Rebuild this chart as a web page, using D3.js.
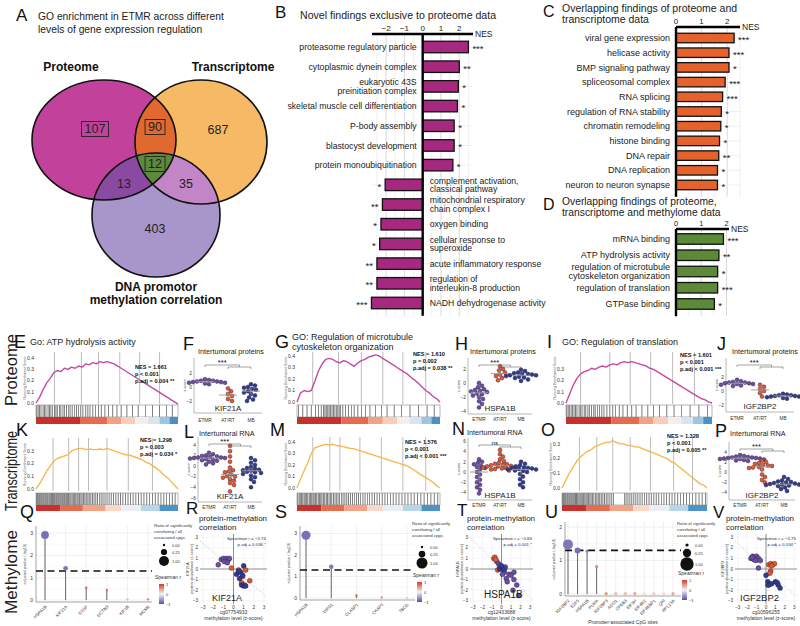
<!DOCTYPE html>
<html>
<head>
<meta charset="utf-8">
<script src="https://cdn.jsdelivr.net/npm/d3@7/dist/d3.min.js"></script>
<style>
html,body{margin:0;padding:0;background:#fff;}
svg{display:block;font-family:"Liberation Sans",Arial,Helvetica,sans-serif;}
</style>
</head>
<body>
<svg id="fig" width="800" height="626"></svg>
<script>
// ================= DATA =================
const vennRegions = ["P","PT","T","PTD","PD","TD","D"];
const vennCounts  = [107, 90, 687, 12, 13, 35, 403];
const vennBoxed   = [true, true, false, true, false, false, false];

const bTerms = ["proteasome regulatory particle","cytoplasmic dynein complex","eukaryotic 43S\npreinitiation complex","skeletal muscle cell differentiation","P-body assembly","blastocyst development","protein monoubiquitination","complement activation,\nclassical pathway","mitochondrial respiratory\nchain complex I","oxygen binding","cellular response to\nsuperoxide","acute inflammatory response","regulation of\ninterleukin-8 production","NADH dehydrogenase activity"];
const bNES   = [2.5, 2.0, 1.95, 1.9, 1.72, 1.72, 1.65, -2.05, -2.2, -2.28, -2.35, -2.5, -2.5, -2.8];
const bStars = ["***","**","*","*","*","*","*","*","**","*","*","**","**","***"];

const cTerms = ["viral gene expression","helicase activity","BMP signaling pathway","spliceosomal complex","RNA splicing","regulation of RNA stability","chromatin remodeling","histone binding","DNA repair","DNA replication","neuron to neuron synapse"];
const cNES   = [2.27, 2.07, 2.07, 1.92, 1.82, 1.77, 1.75, 1.70, 1.67, 1.62, 1.62];
const cStars = ["***","***","*","***","***","*","*","*","**","*","*"];

const dTerms = ["mRNA binding","ATP hydrolysis activity","regulation of microtubule\ncytoskeleton organization","regulation of translation","GTPase binding"];
const dNES   = [1.88, 1.70, 1.65, 1.65, 1.52];
const dStars = ["***","**","*","***","*"];

const nesTicksB  = [-2,-1,0,1,2];
const nesTicksCD = [0,1,2];

// GSEA running enrichment scores (evenly spaced along the ranked list)
const eCurve = [0,0.05,0.12,0.18,0.22,0.27,0.29,0.28,0.31,0.30,0.32,0.31,0.33,0.32,0.35,0.34,0.36,0.35,0.37,0.36,0.37,0.36,0.35,0.33,0.31,0.29,0.27,0.25,0.23,0.21,0.19,0.17,0.15,0.13,0.11,0.09,0.07,0.05,0.03,0.01,-0.01];
const gCurve = [0,0.08,0.10,0.09,0.10,0.18,0.27,0.33,0.37,0.38,0.37,0.35,0.34,0.36,0.35,0.33,0.31,0.34,0.36,0.37,0.39,0.40,0.41,0.40,0.38,0.36,0.34,0.32,0.30,0.28,0.26,0.24,0.21,0.19,0.16,0.13,0.10,0.08,0.05,0.03,0.0];
const iCurve = [0,0.08,0.16,0.22,0.26,0.28,0.29,0.31,0.30,0.32,0.33,0.32,0.34,0.35,0.34,0.36,0.37,0.36,0.37,0.36,0.35,0.34,0.33,0.31,0.30,0.28,0.26,0.24,0.22,0.20,0.18,0.16,0.14,0.12,0.10,0.08,0.06,0.04,0.03,0.01,0.0];
const kCurve = [0,0.04,0.09,0.14,0.18,0.22,0.24,0.25,0.26,0.27,0.30,0.31,0.32,0.32,0.31,0.315,0.31,0.31,0.315,0.31,0.32,0.31,0.30,0.29,0.28,0.27,0.27,0.26,0.25,0.24,0.23,0.21,0.20,0.18,0.16,0.14,0.11,0.09,0.06,0.03,0.0];
const mCurve = [0,0.08,0.15,0.22,0.30,0.35,0.36,0.37,0.38,0.375,0.38,0.37,0.365,0.36,0.35,0.345,0.34,0.33,0.32,0.31,0.30,0.29,0.28,0.27,0.26,0.25,0.24,0.23,0.22,0.21,0.20,0.19,0.17,0.15,0.13,0.11,0.09,0.07,0.05,0.02,0.0];
const oCurve = [0,0.05,0.10,0.14,0.18,0.21,0.23,0.25,0.26,0.28,0.29,0.30,0.31,0.31,0.32,0.31,0.30,0.30,0.29,0.29,0.28,0.28,0.27,0.26,0.25,0.24,0.23,0.22,0.21,0.20,0.18,0.17,0.15,0.13,0.11,0.09,0.07,0.05,0.03,0.02,0.0];

// gene-set hit positions (% of ranked list)
const eHits = [0.5,1.5,2.5,3.5,5,6,7,8.5,9.5,10.5,11.5,13,14,15,16.5,17.5,19,20,21.5,23,24,25.5,27,28.5,30,31.5,33,35,36.5,38,40,42,44,46,48.5,51,54,57,60,64,68,72,77,82,87,92,96];
const gHits = [1,4,7,10,13,15,17,18.5,19.5,20.5,21.5,22.5,23.5,24.5,25.5,26.5,27.5,28.5,29.5,30.5,32,34,36,38,40,42.5,45,48,51,55,59,63,68,73,79,85,91,96];
const iHits = [0.5,1.5,2.5,3.5,4.5,5.5,6.5,7.5,9,10,11,12.5,13.5,15,16,17.5,19,20,21.5,23,24.5,26,28,30,32,34,36.5,39,42,45,48,52,56,60,64,69,74,79,85,91,97];
const kHits = [0.4,1.1,1.9,2.6,3.4,4.1,4.9,5.6,6.4,7.1,7.9,8.6,9.4,10.1,10.9,11.6,12.4,13.1,13.9,14.6,15.4,16.1,16.9,17.6,18.4,19.1,19.9,20.6,21.4,22.1,22.9,23.8,24.6,25.5,26.3,27.2,28,28.9,29.7,30.6,31.6,32.5,33.5,34.4,35.4,36.5,37.5,38.6,39.8,40.9,42.1,43.3,44.6,45.9,47.2,48.6,50,51.5,53,54.6,56.2,57.9,59.5,61.2,63,64.8,66.6,68.4,70.3,72.2,74.1,76,78,80,82,84,86,88,90,92,94,96,98];
const mHits = [0.5,1.5,2.3,3.2,4,5,5.8,6.7,7.5,8.6,9.4,10.3,11.2,12,13,13.8,14.9,15.7,16.6,17.5,18.6,19.4,20.5,21.3,22.4,23.5,24.3,25.5,26.6,27.5,28.7,29.8,31,32.2,33.5,34.8,36,37.4,38.8,40.1,41.6,43,44.5,46.1,47.6,49.2,50.8,52.5,54.2,56,57.8,59.6,61.5,63.4,65.3,67.3,69.3,71.3,73.4,75.5,77.6,79.8,82,84.3,86.6,88.9,91.2,93.6,96,98.4];
const oHits = [0.3,1,1.8,2.5,3.3,4,4.8,5.5,6.3,7,7.8,8.5,9.3,10,10.8,11.6,12.4,13.2,14,14.9,15.7,16.6,17.4,18.3,19.2,20.1,21,22,23,24,25,26,27.1,28.2,29.3,30.5,31.7,33,34.3,35.6,43,44.2,45.5,46.8,48.1,49.5,50.9,52.3,53.8,55.3,56.8,58.4,60,61.6,63.3,65,66.7,68.5,70.3,72.1,74,75.9,77.8,79.8,81.8,83.8,85.9,88,90.1,92.3,94.5,96.7,98.9];
const eGrid = [13,32,44,59,73,87];
const gGrid = [11,29,45,60,74,90];
const iGrid = [10,30,44,58,73,88];
const kGrid = [12,23,30,37,50,65,82];
const mGrid = [11,23,30,44,59,74,90];
const oGrid = [12,24,35,47,61,77,90];
const pStripBreaks = [0,31,50,60,70,79,87,94,100];
const tStripBreaks = [0,17,33,49,60,74,87,100];

const eStats = ["NES = 1.661","p < 0.001","p.adj = 0.004 **"];
const gStats = ["NES = 1.610","p = 0.002","p.adj = 0.038 **"];
const iStats = ["NES = 1.601","p < 0.001","p.adj < 0.001 ***"];
const kStats = ["NES = 1.298","p = 0.003","p.adj = 0.034 *"];
const mStats = ["NES = 1.576","p < 0.001","p.adj < 0.001 ***"];
const oStats = ["NES = 1.328","p < 0.001","p.adj = 0.005 **"];

// intertumoral z-scores: ETMR, AT/RT, MB
const tumorGroups = ["ETMR","AT/RT","MB"];
const fETMR=[1.1,1.0,0.9,0.9,0.8,0.8,0.7,0.7,0.6,0.6,0.5,0.4];
const fATRT=[-0.2,-0.6,-1.0,-1.3,-1.7,-2.0];
const fMB  =[0.4,0.2,0.0,-0.1,-0.3,-0.4,-0.6,-0.8,-1.0,-1.2,-1.5,-1.8,-2.0];
const hETMR=[0.0,-0.4,-0.6,-0.9,-1.0,-1.2,-1.3,-1.5,-1.6,-1.8,-2.0,-2.3,-2.6,-3.0,-3.5,-1.1];
const hATRT=[2.4,2.0,1.8,1.5,1.2,1.0,0.7,0.4];
const hMB  =[1.9,1.7,1.5,1.4,1.3,1.2,1.1,1.0,0.9,0.8,0.7,0.5,0.3,1.3,1.1];
const jETMR=[1.6,1.4,1.3,1.2,1.1,1.0,1.0,0.9,0.8,0.7,1.2,1.1];
const jATRT=[0.9,0.6,0.3,0.0,-0.3,-0.8];
const jMB  =[-0.4,-0.5,-0.6,-0.7,-0.7,-0.8,-0.9,-1.0,-1.1,-0.6,-0.8];
const lETMR=[2.5,2.2,2.0,1.9,1.8,1.7,1.6,1.6,1.5,1.5,1.4,1.3,1.2,1.1,1.0,0.8,0.5,0.3];
const lATRT=[3.8,2.8,1.8,0.8,-0.3,-0.8,-1.2,-1.6,-1.9,-2.2,-2.5,-2.8,-3.2,-3.6,-4.8,-2.0,-1.0];
const lMB  =[1.5,1.1,0.6,0.2,-0.2,-0.5,-0.7,-0.9,-1.1,-1.3,-1.5,-1.8,-2.1,-2.5,-3.0,-4.0,-0.8,-1.2,-0.4];
const nETMR=[2.5,2.0,1.5,1.0,0.5,0.0,-0.5,-1.0,-1.5,-2.0,-2.5,-3.0,-3.5,-4.2,1.8,1.2,0.8];
const nATRT=[4.3,3.5,3.0,2.5,2.1,1.8,1.6,1.4,1.3,1.2,1.1,1.0,0.9,0.8,0.7,0.6,0.5,0.3,1.5,1.1];
const nMB  =[2.0,1.6,1.3,1.1,0.9,0.8,0.7,0.6,0.5,0.3,0.0,-0.4,-0.9,-1.4,-2.0,-2.5,-3.0,0.8,0.5,0.2];
const pETMR=[3.4,3.2,3.0,2.9,2.8,2.8,2.7,2.7,2.6,2.6,2.5,2.4,2.3,2.2,2.9,3.1];
const pATRT=[2.3,2.0,1.8,1.6,1.4,1.2,1.0,0.8,0.5,-0.5,-1.0,-1.6,-2.1,1.3,0.9];
const pMB  =[-1.0,-1.4,-1.7,-1.9,-2.1,-2.3,-2.4,-2.5,-2.6,-2.7,-2.9,-3.1,-3.4,-3.8,-2.2,-2.5,-2.8,-2.0];

// methylation lollipops
const pThreshold = 0.05;
const qCats=["HSPA1B","KIF21A","DYSF","DCTN3","KIF1B","MCM6"];
const qLogP=[2.92,1.42,0.55,0.45,0.03,0.03];
const qRatio=[0.5,0.1,0,0,0,0];
const qRho=[-0.8,-0.75,0.8,0.7,0.3,0.6];
const sCats=["HSPA1B","DRG1","CLASP1","CKAP5","TBCD"];
const sLogP=[2.92,1.45,0.12,0.02,0.0];
const sRatio=[0.6,0.06,0,0,0];
const sRho=[-0.8,-0.75,0.8,0.5,0.2];
const uCats=["IGF2BP2","E2F5","HSPA1B","PURA","IGF2BP3","AGO1","CPEB3","EIF3H","EIF4E2","EIF4EBP1","QKI","RPL13A"];
const uLogP=[1.48,1.30,1.28,0.82,0.01,0.01,0.01,0.01,0.01,0.01,0.01,0.01];
const uRatio=[0.45,0.07,0,0,0,0,0,0,0,0,0,0];
const uRho=[-0.75,-0.8,-0.7,0.6,0.5,0.3,0.3,0.4,0.1,0.2,0.1,0.4];
const ratioLegend=[0,0.25,1];

// protein-methylation scatter (x = methylation z, y = protein z, group 0 ETMR 1 AT/RT 2 MB)
const rX=[-1.5,-1.2,-1.0,-0.8,-0.7,-0.5,-0.4,-0.9,-0.6,-0.2,0.5,1.2,0.8,1.1,1.6,0.9,0.3,0.7,1.0,0.9,0.6,0.8,1.0,1.2,0.5];
const rY=[0.4,0.9,1.0,0.8,1.0,0.9,1.0,0.7,0.6,0.1,-0.1,-0.1,-1.3,-1.5,-1.1,-0.7,-0.5,-0.3,0.3,-0.6,-0.9,-1.5,-1.6,-1.6,-0.2];
const rG=[0,0,0,0,0,0,0,0,0,1,1,1,1,1,1,1,2,2,2,2,2,2,2,2,2];
const tX=[-0.5,-0.3,-0.2,0,0.2,0.4,0.3,0.1,0.5,0.8,1.0,1.3,1.3,1.6,1.2,1.8,0.6,-0.8,-0.7,-0.6,-0.4,-0.2,0.1,0.3,0.0];
const tY=[0.7,0.5,0.3,0.2,0.1,0.2,-0.3,-0.5,-0.9,-0.5,-0.6,-0.3,-1.0,-1.5,-2.0,-2.5,-1.2,1.0,1.1,0.9,-0.1,0.0,0.0,0.0,0.3];
const tG=[0,0,0,0,0,0,0,0,0,0,0,0,0,0,0,0,0,1,1,1,1,2,2,2,2];
const vX=[-1.6,-1.4,-1.3,-1.2,-1.0,-0.9,-0.8,-0.6,-1.1,-0.8,-1.5,0.3,0.5,0.7,0.9,0.6,0.5,0.4,0.0,0.2,0.3,0.6,1.0,1.2,1.3,1.5,0.2];
const vY=[1.0,1.2,0.9,1.1,1.2,0.9,1.0,0.8,0.8,0.1,1.1,0.4,0.5,0.4,0.5,0.3,-0.2,-0.4,-0.6,-1.2,-1.5,-1.4,-1.2,-1.3,-1.5,-1.8,-1.5];
const vG=[0,0,0,0,0,0,0,0,0,0,0,1,1,1,1,1,1,1,2,2,2,2,2,2,2,2,2];
const axisTicks3=[-3,-2,-1,0,1,2,3];

// ================= DRAWING =================
const svg=d3.select("#fig");
const defs=svg.append("defs");
const MINUS="\u2212";
const fmt=v=>(v<0?MINUS+Math.abs(v):String(v));

function T(p,x,y,s,size,o={}){
  const t=p.append("text").attr("x",x).attr("y",y).attr("font-size",size).text(s);
  t.attr("text-anchor",o.anchor||"start");
  if(o.weight) t.attr("font-weight",o.weight);
  t.attr("fill",o.fill||"#111");
  if(o.rotate!=null) t.attr("transform",`rotate(${o.rotate},${x},${y})`);
  if(o.base) t.attr("dominant-baseline",o.base);
  if(o.len){t.attr("textLength",o.len).attr("lengthAdjust","spacingAndGlyphs");}
  return t;
}
function TL(p,x,y,lines,size,lh,o={}){lines.forEach((l,i)=>T(p,x,y+i*lh,l,size,o));}

// ---------- Panel A : Venn ----------
const ELL={P:{cx:104,cy:140,rx:72,ry:60},T:{cx:201,cy:142,rx:66,ry:62},D:{cx:156,cy:215,rx:64,ry:62}};
const vcol={P:"#c2419b",T:"#f6b965",D:"#a896cb",PT:"#e1682f",PD:"#8a4aa2",TD:"#c285c5",PTD:"#5b8a3b"};
["P","T"].forEach(k=>defs.append("clipPath").attr("id","clip"+k).append("ellipse")
  .attr("cx",ELL[k].cx).attr("cy",ELL[k].cy).attr("rx",ELL[k].rx).attr("ry",ELL[k].ry));
const vg=svg.append("g");
const ell=(g,k,fill)=>g.append("ellipse").attr("cx",ELL[k].cx).attr("cy",ELL[k].cy).attr("rx",ELL[k].rx).attr("ry",ELL[k].ry).attr("fill",fill);
ell(vg,"P",vcol.P);ell(vg,"T",vcol.T);ell(vg,"D",vcol.D);
ell(vg.append("g").attr("clip-path","url(#clipP)"),"T",vcol.PT);
ell(vg.append("g").attr("clip-path","url(#clipP)"),"D",vcol.PD);
ell(vg.append("g").attr("clip-path","url(#clipT)"),"D",vcol.TD);
ell(vg.append("g").attr("clip-path","url(#clipP)").append("g").attr("clip-path","url(#clipT)"),"D",vcol.PTD);
["P","T","D"].forEach(k=>ell(vg,k,"none").attr("stroke","#111").attr("stroke-width",1.6));
const vennPos={P:[95,129],PT:[155,127],T:[218,130],PTD:[155,164],PD:[124,184],TD:[186,184],D:[155,229]};
vennRegions.forEach((r,i)=>{
  const t=T(vg,vennPos[r][0],vennPos[r][1],String(vennCounts[i]),12.5,{anchor:"middle",base:"central",fill:"#222"});
  if(vennBoxed[i]){const b=t.node().getBBox();
    vg.append("rect").attr("x",b.x-3).attr("y",b.y-0.5).attr("width",b.width+6).attr("height",b.height+1)
      .attr("fill","none").attr("stroke","#222").attr("stroke-width",0.9);}
});
T(svg,71,71,"Proteome",12,{anchor:"middle",weight:"bold"});
T(svg,233,71,"Transcriptome",12,{anchor:"middle",weight:"bold"});
T(svg,156,291,"DNA promotor",12,{anchor:"middle",weight:"bold"});
T(svg,156,304,"methylation correlation",12,{anchor:"middle",weight:"bold"});
T(svg,16,21,"A",17);
TL(svg,38,20,["GO enrichment in ETMR across different","levels of gene expression regulation"],10.3,13,{fill:"#222"});

// ---------- Bar panels B, C, D ----------
function barPanel(o){
  const g=svg.append("g");
  const x=d3.scaleLinear().domain(o.dom).range(o.rng);
  const y=d3.scalePoint().domain(d3.range(o.terms.length)).range(o.yc);
  const bot=o.yc[1]+o.bh/2+7;
  o.grid.forEach(v=>g.append("line").attr("x1",x(v)).attr("x2",x(v)).attr("y1",o.axY).attr("y2",bot)
     .attr("stroke",Number.isInteger(v)?"#cfcfcf":"#ececec").attr("stroke-width",0.8));
  o.terms.forEach((t,i)=>g.append("line").attr("x1",o.rng[0]).attr("x2",o.rng[1]).attr("y1",y(i)).attr("y2",y(i)).attr("stroke","#ececec").attr("stroke-width",0.8));
  o.nes.forEach((v,i)=>g.append("rect").attr("x",x(Math.min(0,v))).attr("y",y(i)-o.bh/2)
     .attr("width",Math.abs(x(v)-x(0))).attr("height",o.bh).attr("fill",o.fill).attr("stroke","#111").attr("stroke-width",1.3));
  g.append("line").attr("x1",o.rng[0]).attr("x2",o.rng[1]).attr("y1",o.axY).attr("y2",o.axY).attr("stroke","#000").attr("stroke-width",2.4);
  g.append("line").attr("x1",x(0)).attr("x2",x(0)).attr("y1",o.axY).attr("y2",bot).attr("stroke","#000").attr("stroke-width",2.4);
  o.ticks.forEach(t=>T(g,x(t),o.axY-3.5,fmt(t),o.tickSize||8,{anchor:"middle",fill:"#222"}));
  T(g,o.rng[1]+2,o.axY+3,"NES",8.5,{fill:"#222"});
  o.terms.forEach((t,i)=>{
    const lines=t.split("\n");const neg=o.nes[i]<0&&o.split;
    const x0=neg?x(0)+7:x(0)-6;
    const lh=o.fs;
    const y0=y(i)-(lines.length-1)*lh/2+o.fs*0.35;
    TL(g,x0,y0,lines,o.fs,lh,{anchor:neg?"start":"end",fill:"#222"});
    const v=o.nes[i];
    T(g,v<0?x(v)-4:x(v)+4,y(i)+5,o.stars[i],9.5,{anchor:v<0?"end":"start",fill:"#222"});
  });
}
barPanel({terms:bTerms,nes:bNES,stars:bStars,dom:[-2.77,2.75],rng:[372,473],yc:[47,303],bh:11.5,axY:34,fs:8.7,
  ticks:nesTicksB,grid:[-2.5,-2,-1.5,-1,-0.5,0.5,1,1.5,2,2.5],fill:"#a7287f",split:true});
T(svg,275,18,"B",17);
T(svg,300,19,"Novel findings exclusive to proteome data",10.6,{fill:"#222"});

barPanel({terms:cTerms,nes:cNES,stars:cStars,dom:[0,2.5],rng:[676,740],yc:[38,185],bh:9.5,axY:27,fs:9,
  ticks:nesTicksCD,grid:[0.5,1,1.5,2,2.5],fill:"#e6622c",split:false});
T(svg,543,17,"C",16);
TL(svg,562,12,["Overlapping findings of proteome and","transcriptome data"],10.5,10.5,{fill:"#222"});

barPanel({terms:dTerms,nes:dNES,stars:dStars,dom:[0,2.1],rng:[676,729],yc:[239,304],bh:10.5,axY:229,fs:9,tickSize:7.5,
  ticks:nesTicksCD,grid:[0.5,1,1.5,2],fill:"#5d8a37",split:false});
T(svg,543,210,"D",16);
TL(svg,562,205,["Overlapping findings of proteome,","transcriptome and methylome data"],10.3,10.6,{fill:"#222"});

// ---------- GSEA panels ----------
const pStripCols=["#c9302c","#e8694f","#f3a183","#f9cdb9","#f5eeee","#d6e6f1","#9ac8e0","#4a90c2"];
const tStripCols=["#cc2f2c","#e66b4f","#f4a384","#f9d8c9","#e9eef5","#b7d6ea","#4d93c3"];
function gsea(o){
  const g=svg.append("g");
  const x=d3.scaleLinear().domain([0,100]).range([o.x0,o.x1]);
  const y=d3.scaleLinear().domain([(o.z-o.yBot)/o.ppu,(o.z-o.yTop)/o.ppu]).range([o.yBot,o.yTop]);
  o.grid.forEach(f=>g.append("line").attr("x1",x(f)).attr("x2",x(f)).attr("y1",o.yTop).attr("y2",o.yBot).attr("stroke","#a0a0a0").attr("stroke-width",0.7));
  o.ticks.forEach(t=>T(g,o.x0-2,y(t)+1.8,t.toFixed(1),5,{anchor:"end",fill:"#333"}));
  T(g,o.x0-10,(o.yTop+o.yBot)/2,"Running Enrichment Score",3.6,{anchor:"middle",rotate:-90,fill:"#555"});
  const line=d3.line().x((d,i)=>x(100*i/(o.curve.length-1))).y(d=>y(d));
  g.append("path").datum(o.curve).attr("d",line).attr("fill","none").attr("stroke",o.color).attr("stroke-width",1.4).attr("stroke-linejoin","round");
  o.hits.forEach(h=>g.append("line").attr("x1",x(h)).attr("x2",x(h)).attr("y1",o.bc0).attr("y2",o.bc1).attr("stroke","#111").attr("stroke-width",0.65).attr("opacity",0.85));
  g.append("rect").attr("x",o.x0).attr("y",o.bc0).attr("width",o.x1-o.x0).attr("height",o.bc1-o.bc0).attr("fill","none").attr("stroke","#888").attr("stroke-width",0.6);
  for(let i=0;i<o.breaks.length-1;i++){
    g.append("rect").attr("x",x(o.breaks[i])).attr("y",o.bc1).attr("width",x(o.breaks[i+1])-x(o.breaks[i])).attr("height",o.st-o.bc1).attr("fill",o.cols[i]);
  }
  o.stats.forEach((s,i)=>T(g,o.tx,o.ty+i*7.2,s,5.6,{weight:"bold",fill:"#111"}));
}
const PC="#c44aa3", TC="#f6b852";
gsea({x0:36,x1:178,yTop:352,yBot:404,z:403,ppu:112,ticks:[0,0.1,0.2,0.3,0.4],curve:eCurve,grid:eGrid,hits:eHits,bc0:405,bc1:417,st:424,breaks:pStripBreaks,cols:pStripCols,color:PC,stats:eStats,tx:135,ty:369});
gsea({x0:297,x1:440,yTop:352,yBot:404,z:402,ppu:115,ticks:[0,0.1,0.2,0.3,0.4],curve:gCurve,grid:gGrid,hits:gHits,bc0:405,bc1:417,st:424,breaks:pStripBreaks,cols:pStripCols,color:PC,stats:gStats,tx:413,ty:356});
gsea({x0:566,x1:712,yTop:352,yBot:404,z:403,ppu:112,ticks:[0,0.1,0.2,0.3],curve:iCurve,grid:iGrid,hits:iHits,bc0:405,bc1:417,st:424,breaks:pStripBreaks,cols:pStripCols,color:PC,stats:iStats,tx:680,ty:357});
gsea({x0:36,x1:178,yTop:438,yBot:491,z:489,ppu:127,ticks:[0,0.1,0.2,0.3],curve:kCurve,grid:kGrid,hits:kHits,bc0:493,bc1:505,st:511,breaks:tStripBreaks,cols:tStripCols,color:TC,stats:kStats,tx:140,ty:442});
gsea({x0:297,x1:440,yTop:437,yBot:491,z:488,ppu:115,ticks:[0,0.1,0.2,0.3,0.4],curve:mCurve,grid:mGrid,hits:mHits,bc0:493,bc1:505,st:511,breaks:tStripBreaks,cols:tStripCols,color:TC,stats:mStats,tx:405,ty:444});
gsea({x0:562,x1:707,yTop:437,yBot:491,z:488,ppu:147,ticks:[0,0.1,0.2,0.3],curve:oCurve,grid:oGrid,hits:oHits,bc0:493,bc1:505,st:511,breaks:tStripBreaks,cols:tStripCols,color:TC,stats:oStats,tx:667,ty:438});
T(svg,14,348,"E",18);T(svg,30,345,"Go: ATP hydrolysis activity",9,{fill:"#222"});
T(svg,275,348,"G",18);TL(svg,292,340,["GO: Regulation of microtubule","cytoskeleton organization"],9,10,{fill:"#222"});
T(svg,547,348,"I",18);T(svg,562,345,"GO: Regulation of translation",9,{fill:"#222"});
T(svg,16,436,"K",18);T(svg,270,436,"M",18);T(svg,541,436,"O",18);

// ---------- Beeswarm panels ----------
const grpCol=["#6a4fa0","#e0582b","#2c3d8e"];
const PR=2.0;
function dodge(vals,y,r){
  const pts=vals.map(v=>({v,py:y(v)})).sort((a,b)=>a.py-b.py);const placed=[];
  pts.forEach(p=>{let k=0;
    while(true){const c=(k===0?0:(k%2?Math.ceil(k/2):-k/2))*r*0.5;
      if(placed.every(q=>(q.dx-c)**2+(q.py-p.py)**2>=(1.85*r)**2)){p.dx=c;break;}k++;}
    placed.push(p);});
  return placed;
}
function swarm(o){
  const g=svg.append("g");
  const x=d3.scalePoint().domain(tumorGroups).range([o.x0+11,o.x1-11]);
  const y=d3.scaleLinear().domain([(o.z-o.yBot)/o.ppu,(o.z-o.yTop)/o.ppu]).range([o.yBot,o.yTop]);
  g.append("line").attr("x1",o.x0).attr("x2",o.x0).attr("y1",o.yTop).attr("y2",o.yBot).attr("stroke","#999").attr("stroke-width",0.7);
  g.append("line").attr("x1",o.x0).attr("x2",o.x1).attr("y1",o.yBot).attr("y2",o.yBot).attr("stroke","#999").attr("stroke-width",0.7);
  o.ticks.forEach(t=>T(g,o.x0-2,y(t)+1.7,fmt(t),4.8,{anchor:"end",fill:"#333"}));
  T(g,o.x0-8,(o.yTop+o.yBot)/2,"z-score",3.8,{anchor:"middle",rotate:-90,fill:"#555"});
  o.data.forEach((vals,gi)=>{
    const cx=x(tumorGroups[gi]);const s=vals.slice().sort(d3.ascending);
    const q1=d3.quantile(s,0.25),q3=d3.quantile(s,0.75),md=d3.median(s);
    dodge(vals,y,PR).forEach(p=>g.append("circle").attr("cx",cx+p.dx).attr("cy",p.py).attr("r",PR)
      .attr("fill",grpCol[gi]).attr("stroke","#2a1a3a").attr("stroke-width",0.4));
    g.append("line").attr("x1",cx).attr("x2",cx).attr("y1",y(q1)).attr("y2",y(q3)).attr("stroke","#9a9a9a").attr("stroke-width",0.7);
    g.append("line").attr("x1",cx-9).attr("x2",cx+9).attr("y1",y(md)).attr("y2",y(md)).attr("stroke","#9a9a9a").attr("stroke-width",0.9);
    T(g,cx,o.yBot+o.catDy,tumorGroups[gi],4.8,{anchor:"middle",fill:"#333"});
  });
  const a=x(tumorGroups[0]),b=x(tumorGroups[1]),c=x(tumorGroups[2]),m=(b+c)/2,by=o.yTop+7;
  g.append("path").attr("d",`M${a},${by+2}V${by}H${m}V${by+2}M${b},${by+4}V${by+2}H${c}V${by+4}`).attr("fill","none").attr("stroke","#666").attr("stroke-width",0.6);
  T(g,(a+m)/2,by-0.5,o.star,o.star==="ns"?6:7.5,{anchor:"middle",fill:"#111"});
  T(g,(o.x0+o.x1)/2,o.geneY,o.gene,8,{anchor:"middle",fill:"#222"});
  T(g,o.lx,o.ly,o.letter,18);
  T(g,o.lx+15,o.ty,o.title,7.2,{fill:"#222"});
}
swarm({x0:194,x1:262,yTop:358,yBot:413,z:387,ppu:7,ticks:[2,0,-2],data:[fETMR,fATRT,fMB],star:"***",gene:"KIF21A",geneY:411,catDy:9,letter:"F",lx:183,ly:350,ty:354,title:"Intertumoral proteins"});
swarm({x0:468,x1:532,yTop:358,yBot:414,z:383,ppu:7,ticks:[2,0,-2,-4],data:[hETMR,hATRT,hMB],star:"***",gene:"HSPA1B",geneY:411,catDy:7,letter:"H",lx:455,ly:350,ty:354,title:"Intertumoral proteins"});
swarm({x0:726,x1:794,yTop:358,yBot:412,z:391,ppu:7,ticks:[2,0,-2],data:[jETMR,jATRT,jMB],star:"***",gene:"IGF2BP2",geneY:409,catDy:8,letter:"J",lx:717,ly:350,ty:354,title:"Intertumoral proteins"});
swarm({x0:198,x1:262,yTop:437,yBot:502,z:466,ppu:5.3,ticks:[4,2,0,-2,-4,-6],data:[lETMR,lATRT,lMB],star:"***",gene:"KIF21A",geneY:499,catDy:7,letter:"L",lx:184,ly:438,ty:436,title:"Intertumoral RNA"});
swarm({x0:468,x1:532,yTop:438,yBot:500,z:472,ppu:5.1,ticks:[6,4,2,0,-2,-4],data:[nETMR,nATRT,nMB],star:"ns",gene:"HSPA1B",geneY:498,catDy:7,letter:"N",lx:452,ly:435,ty:435,title:"Intertumoral RNA"});
swarm({x0:729,x1:795,yTop:442,yBot:500,z:472,ppu:5,ticks:[4,2,0,-2,-4],data:[pETMR,pATRT,pMB],star:"***",gene:"IGF2BP2",geneY:498,catDy:7,letter:"P",lx:715,ly:437,ty:436,title:"Intertumoral RNA"});

// ---------- Lollipop panels ----------
const rhoCol=d3.scaleLinear().domain([-1,0,1]).range(["#5a4ea7","#f4f2f5","#d93a22"]);
const grad=defs.append("linearGradient").attr("id","rhoGrad").attr("x1",0).attr("x2",0).attr("y1",0).attr("y2",1);
[[0,"#d93a22"],[0.5,"#f4f2f5"],[1,"#5a4ea7"]].forEach(s=>grad.append("stop").attr("offset",s[0]).attr("stop-color",s[1]));
function lolli(o){
  const g=svg.append("g");
  const x=d3.scalePoint().domain(o.cats).range([o.c0,o.c1]);
  const y=d3.scaleLinear().domain([(o.z-o.yBot)/o.ppu,(o.z-o.yTop)/o.ppu]).range([o.yBot,o.yTop]);
  const sz=d3.scaleSqrt().domain([0,1]).range(o.rr);
  o.ticks.forEach(t=>{[t,t+0.5].forEach((v,k)=>{if(y(v)>=o.yTop-1)g.append("line").attr("x1",o.x0).attr("x2",o.x1).attr("y1",y(v)).attr("y2",y(v)).attr("stroke",k?"#f3f3f3":"#e6e6e6").attr("stroke-width",0.6);});});
  o.cats.forEach(c=>g.append("line").attr("x1",x(c)).attr("x2",x(c)).attr("y1",o.yTop).attr("y2",o.yBot).attr("stroke","#e6e6e6").attr("stroke-width",0.6));
  g.append("line").attr("x1",o.x0).attr("x2",o.x0).attr("y1",o.yTop).attr("y2",o.yBot).attr("stroke","#666").attr("stroke-width",0.6);
  g.append("line").attr("x1",o.x0).attr("x2",o.x1).attr("y1",o.yBot).attr("y2",o.yBot).attr("stroke","#666").attr("stroke-width",0.6);
  o.cats.forEach((c,i)=>{
    g.append("line").attr("x1",x(c)).attr("x2",x(c)).attr("y1",y(0)).attr("y2",y(o.logp[i])).attr("stroke","#666").attr("stroke-width",1);
  });
  const th=-Math.log10(pThreshold);
  g.append("line").attr("x1",o.x0).attr("x2",o.x1).attr("y1",y(th)).attr("y2",y(th)).attr("stroke","#111").attr("stroke-width",1.6).attr("stroke-dasharray","7,4.5");
  o.cats.forEach((c,i)=>g.append("circle").attr("cx",x(c)).attr("cy",y(o.logp[i])).attr("r",sz(o.ratio[i])).attr("fill",rhoCol(o.rho[i])));
  o.ticks.forEach(t=>T(g,o.x0-3,y(t)+1.8,String(t),5,{anchor:"end",fill:"#333"}));
  o.cats.forEach(c=>T(g,x(c)+2,o.yBot+5,c,4.3,{anchor:"end",rotate:-45,fill:"#333"}));
  T(g,o.x0-10,(o.yTop+o.yBot)/2,"adjusted pvalue (-log10)",3.8,{anchor:"middle",rotate:-90,fill:"#444"});
  // legend
  TL(g,o.lx,o.ly,["Ratio of significantly","correlating / all","associated cpgs"],4.3,6,{fill:"#333"});
  ratioLegend.forEach((v,i)=>{g.append("circle").attr("cx",o.lx+10).attr("cy",o.ly+o.legY[i]).attr("r",sz(v)).attr("fill","#111");
    T(g,o.lx+18,o.ly+o.legY[i]+1.5,v.toFixed(2),4,{fill:"#333"});});
  T(g,o.lx+1,o.ly+o.sY,"Spearman r",5,{fill:"#333"});
  g.append("rect").attr("x",o.lx+5).attr("y",o.ly+o.sY+5).attr("width",5).attr("height",20).attr("fill","url(#rhoGrad)");
  [["1",0],["0",10],[MINUS+"1",20]].forEach(s=>T(g,o.lx+12,o.ly+o.sY+7+s[1],s[0],4,{fill:"#333"}));
  T(g,o.letterX,518,o.letter,18);
}
lolli({cats:qCats,logp:qLogP,ratio:qRatio,rho:qRho,x0:36,x1:152,c0:45,c1:148,yTop:526,yBot:602,z:600,ppu:22.3,ticks:[0,1,2,3],rr:[1.2,5],lx:154,ly:527,legY:[18,25,34],sY:52,letter:"Q",letterX:20});
lolli({cats:sCats,logp:sLogP,ratio:sRatio,rho:sRho,x0:300,x1:415,c0:306,c1:407,yTop:526,yBot:600,z:598,ppu:21.5,ticks:[0,1,2,3],rr:[1.2,5.5],lx:412,ly:525,legY:[22,29,38],sY:52,letter:"S",letterX:275});
lolli({cats:uCats,logp:uLogP,ratio:uRatio,rho:uRho,x0:565,x1:681,c0:568,c1:673,yTop:522,yBot:596,z:594,ppu:33.5,ticks:[0,1,2],rr:[1.6,6.7],lx:677,ly:525,legY:[20,28,39],sY:50,letter:"U",letterX:545});
T(svg,623,624,"Promoter-associated CpG sites",5,{anchor:"middle",fill:"#333"});

// ---------- Scatter panels ----------
function scat(o){
  const g=svg.append("g");
  const x=d3.scaleLinear().domain([-3.3,3.3]).range([o.x0,o.x1]);
  const y=d3.scaleLinear().domain([-3.3,3.3]).range([o.yBot,o.yTop]);
  axisTicks3.forEach(t=>{
    g.append("line").attr("x1",x(t)).attr("x2",x(t)).attr("y1",o.yTop).attr("y2",o.yBot).attr("stroke","#eeeeee").attr("stroke-width",0.6);
    g.append("line").attr("x1",o.x0).attr("x2",o.x1).attr("y1",y(t)).attr("y2",y(t)).attr("stroke","#eeeeee").attr("stroke-width",0.6);
    T(g,x(t),o.yBot+5,fmt(t),4.6,{anchor:"middle",fill:"#333"});
    T(g,o.x0-2,y(t)+1.6,fmt(t),4.6,{anchor:"end",fill:"#333"});
  });
  g.append("line").attr("x1",x(0)).attr("x2",x(0)).attr("y1",o.yTop).attr("y2",o.yBot).attr("stroke","#777").attr("stroke-width",0.8);
  g.append("line").attr("x1",o.x0).attr("x2",o.x1).attr("y1",y(0)).attr("y2",y(0)).attr("stroke","#777").attr("stroke-width",0.8);
  g.append("line").attr("x1",x(-3.3)).attr("y1",y(3.3*o.slope*-1)).attr("x2",x(3.3)).attr("y2",y(3.3*o.slope))
    .attr("stroke","#b8b8cc").attr("stroke-width",0.8).attr("stroke-dasharray","1.2,1.6");
  o.xs.forEach((v,i)=>g.append("circle").attr("cx",x(v)).attr("cy",y(o.ys[i])).attr("r",2.5)
    .attr("fill",grpCol[o.gs[i]]).attr("stroke","#2a1a3a").attr("stroke-width",0.35));
  T(g,o.x1-1,o.yTop+6,"Spearman r = "+o.r,4.4,{anchor:"end",fill:"#333"});
  T(g,o.x1-1,o.yTop+11.5,"p.adj = "+o.p,4.4,{anchor:"end",fill:"#333"});
  T(g,o.gx,o.gy,o.gene,o.gs2,{fill:"#222"});
  T(g,(o.x0+o.x1)/2,o.yBot+10,o.cg,5,{anchor:"middle",fill:"#333"});
  T(g,(o.x0+o.x1)/2,o.yBot+16,"methylation level (z-score)",5,{anchor:"middle",fill:"#333"});
  T(g,o.x0-11,(o.yTop+o.yBot)/2,o.gene,4,{anchor:"middle",rotate:-90,fill:"#444"});
  T(g,o.x0-7,(o.yTop+o.yBot)/2,"protein abundance (z-score)",4,{anchor:"middle",rotate:-90,fill:"#444"});
  T(g,o.lx,o.ly,o.letter,17);
  TL(g,o.tx,521,["protein-methylation","correlation"],8,8.5,{fill:"#222"});
}
scat({x0:200,x1:267,yTop:534,yBot:604,xs:rX,ys:rY,gs:rG,slope:-0.8,r:MINUS+"0.74",p:"0.036 *",gene:"KIF21A",gx:212,gy:601,gs2:9,cg:"cg07754933",letter:"R",lx:186,ly:514,tx:199});
scat({x0:470,x1:533,yTop:534,yBot:604,xs:tX,ys:tY,gs:tG,slope:-0.9,r:MINUS+"0.84",p:"0.001 *",gene:"HSPA1B",gx:484,gy:598,gs2:10,cg:"cg12433688",letter:"T",lx:457,ly:516,tx:467});
scat({x0:735,x1:797,yTop:534,yBot:604,xs:vX,ys:vY,gs:vG,slope:-0.8,r:MINUS+"0.75",p:"0.034 *",gene:"IGF2BP2",gx:740,gy:601,gs2:9.5,cg:"cg10596255",letter:"V",lx:713,ly:518,tx:726});

// ---------- Row labels ----------
[["Proteome",370,72],["Transcriptome",471,80],["Methylome",572,84]].forEach(r=>
  T(svg,17,r[1],r[0],16,{anchor:"middle",rotate:-90,fill:"#222",len:r[2]}));
</script>
</body>
</html>
